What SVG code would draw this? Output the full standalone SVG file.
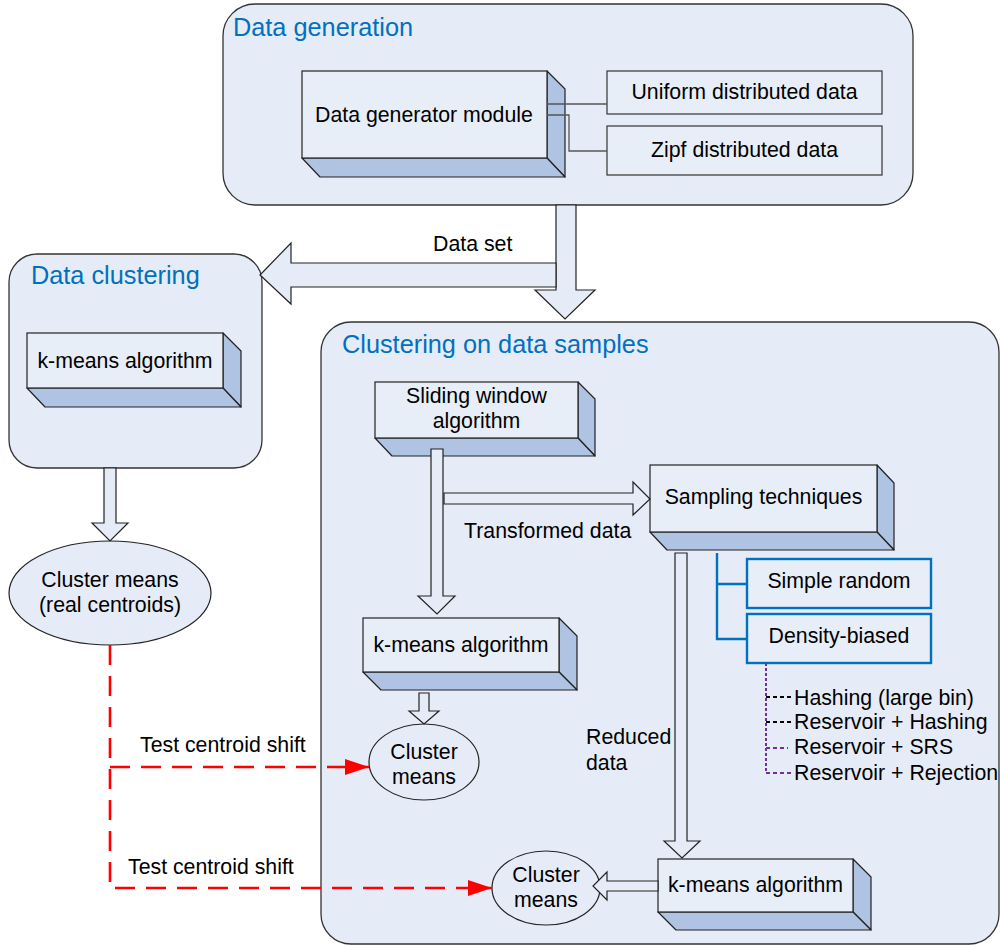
<svg xmlns="http://www.w3.org/2000/svg" width="1001" height="948" viewBox="0 0 1001 948">
<defs>
<style>
text{font-family:"Liberation Sans",Arial,sans-serif;font-size:21.3px;fill:#000}
.title{font-size:25.3px;fill:#0070C0}
.mid{text-anchor:middle}
.cont{fill:#E6ECF7;stroke:#333;stroke-width:1.3}
.front{fill:#E8EEF8;stroke:#222;stroke-width:1.2}
.side{fill:#AFC3E3;stroke:#222;stroke-width:1.2;stroke-linejoin:round}
.plain{fill:#E8EEF8;stroke:#333;stroke-width:1.2}
.blue{fill:#E8EEF8;stroke:#0070C0;stroke-width:2.4}
.harrow{fill:#E6ECF7;stroke:#222;stroke-width:1.2;stroke-linejoin:miter}
.ell{fill:#E6ECF7;stroke:#222;stroke-width:1.2}
.gline{fill:none;stroke:#555;stroke-width:1.3}
.bline{fill:none;stroke:#0070C0;stroke-width:2.4}
.red{fill:none;stroke:#FF0000;stroke-width:2.6;stroke-dasharray:20 11}
</style>
<marker id="redhead" markerUnits="userSpaceOnUse" markerWidth="24" markerHeight="16" refX="24" refY="8" orient="auto">
<path d="M0,0 L24,8 L0,16 Z" fill="#FF0000"/>
</marker>
</defs>
<rect width="1001" height="948" fill="#FFFFFF"/>

<!-- containers -->
<g id="data-generation">
<rect class="cont" x="223" y="4" width="690" height="201" rx="32"/>
<text class="title" x="233" y="36">Data generation</text>
</g>
<g id="data-clustering">
<rect class="cont" x="9" y="254" width="253" height="214" rx="28"/>
<text class="title" x="31" y="284">Data clustering</text>
</g>
<g id="clustering-on-samples">
<rect class="cont" x="321" y="322" width="678" height="622" rx="30"/>
<text class="title" x="342" y="353">Clustering on data samples</text>
</g>

<!-- nodes -->
<g id="data-generator-module">
<polygon class="side" points="547,71 565,89 565,177 547,158"/>
<polygon class="side" points="302,158 547,158 565,177 320,177"/>
<rect class="front" x="302" y="71" width="245" height="87"/>
<text x="315" y="122">Data generator module</text>
</g>
<g id="uniform-data">
<rect class="plain" x="607" y="71" width="275" height="43"/>
<text class="mid" x="744.5" y="99">Uniform distributed data</text>
</g>
<g id="zipf-data">
<rect class="plain" x="607" y="126" width="275" height="49"/>
<text class="mid" x="744.5" y="157">Zipf distributed data</text>
</g>

<g id="kmeans-clustering">
<polygon class="side" points="223,333 241,351 241,407 223,388"/>
<polygon class="side" points="27,388 223,388 241,407 45,407"/>
<rect class="front" x="27" y="333" width="196" height="55"/>
<text class="mid" x="125" y="368">k-means algorithm</text>
</g>

<g id="cluster-means-real">
<ellipse class="ell" cx="110" cy="593" rx="101" ry="52"/>
<text class="mid" x="110" y="587">Cluster means</text>
<text class="mid" x="110" y="612">(real centroids)</text>
</g>

<g id="sliding-window">
<polygon class="side" points="578,382 595,399 595,456 578,438"/>
<polygon class="side" points="375,438 578,438 595,456 392,456"/>
<rect class="front" x="375" y="382" width="203" height="56"/>
<text class="mid" x="476.5" y="403">Sliding window</text>
<text class="mid" x="476.5" y="428">algorithm</text>
</g>

<g id="sampling-techniques">
<polygon class="side" points="877,465 894,483 894,550 877,532"/>
<polygon class="side" points="650,532 877,532 894,550 667,550"/>
<rect class="front" x="650" y="465" width="227" height="67"/>
<text class="mid" x="763.5" y="504">Sampling techniques</text>
</g>

<g id="simple-random">
<rect class="blue" x="747" y="559" width="184" height="49"/>
<text class="mid" x="839" y="588">Simple random</text>
</g>
<g id="density-biased">
<rect class="blue" x="747" y="614" width="184" height="49"/>
<text class="mid" x="839" y="643">Density-biased</text>
</g>

<g id="density-variants">
<text x="794" y="705">Hashing (large bin)</text>
<text x="794" y="729">Reservoir + Hashing</text>
<text x="794" y="754">Reservoir + SRS</text>
<text x="794" y="780">Reservoir + Rejection</text>
</g>

<g id="kmeans-window">
<polygon class="side" points="559,618 577,636 577,690 559,672"/>
<polygon class="side" points="363,672 559,672 577,690 381,690"/>
<rect class="front" x="363" y="618" width="196" height="54"/>
<text class="mid" x="461" y="652">k-means algorithm</text>
</g>

<g id="cluster-means-window">
<ellipse class="ell" cx="424" cy="762" rx="55" ry="38"/>
<text class="mid" x="424" y="759">Cluster</text>
<text class="mid" x="424" y="784">means</text>
</g>

<g id="kmeans-sample">
<polygon class="side" points="853,859 871,877 871,930 853,912"/>
<polygon class="side" points="658,912 853,912 871,930 676,930"/>
<rect class="front" x="658" y="859" width="195" height="53"/>
<text class="mid" x="755.5" y="892">k-means algorithm</text>
</g>

<g id="cluster-means-sample">
<ellipse class="ell" cx="546" cy="888" rx="54" ry="37"/>
<text class="mid" x="546" y="882">Cluster</text>
<text class="mid" x="546" y="907">means</text>
</g>

<!-- connectors -->
<g id="connectors">
<path class="gline" d="M547,104 H607"/>
<path class="gline" d="M547,115 H569 V151 H607"/>

<polygon class="harrow" points="556,205 576,205 576,290 595,290 565,319 535,290 556,290"/>
<polygon class="harrow" points="556,263 291,263 291,243 260,275 291,304 291,287 556,287"/>
<text x="433" y="251">Data set</text>

<polygon class="harrow" points="104,468 116,468 116,523 128,523 110,541 92,523 104,523"/>

<polygon class="harrow" points="431,449 443,449 443,596 455,596 437,614 418,596 431,596"/>
<polygon class="harrow" points="444,493 633,493 633,482 650,499 633,515 633,504 444,504"/>
<text x="464" y="538">Transformed data</text>

<polygon class="harrow" points="419,693 429,693 429,711 439,711 424,724 409,711 419,711"/>

<polygon class="harrow" points="675,553 687,553 687,841 700,841 682,858 664,841 675,841"/>
<text x="586" y="744">Reduced</text>
<text x="586" y="770">data</text>

<polygon class="harrow" points="658,881 607,881 607,872 593,886 607,900 607,891 658,891"/>

<path class="bline" d="M717,553 V639 H747 M717,584 H747"/>

<path d="M766,663 V773" fill="none" stroke="#7030A0" stroke-width="2" stroke-dasharray="3 2"/>
<path d="M766,697 H793 M766,722 H793" fill="none" stroke="#000" stroke-width="2" stroke-dasharray="4 3"/>
<path d="M766,748 H788 M766,773 H793" fill="none" stroke="#7030A0" stroke-width="2" stroke-dasharray="4 3"/>

<path class="red" d="M110,645 V888 H492" marker-end="url(#redhead)"/>
<path class="red" d="M110,767 H369" marker-end="url(#redhead)"/>
<text x="140" y="752">Test centroid shift</text>
<text x="128" y="874">Test centroid shift</text>
</g>
</svg>
